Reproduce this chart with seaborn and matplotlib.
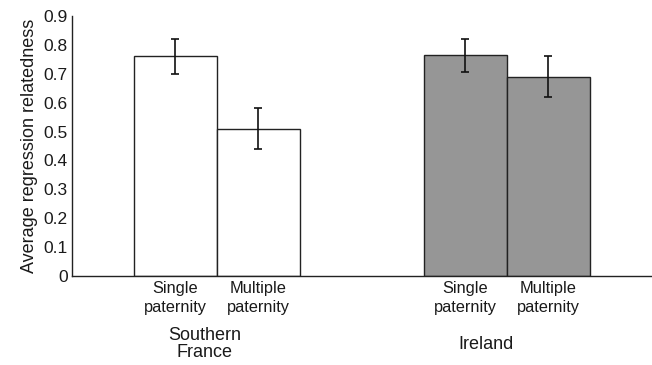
import numpy as np
import pandas as pd
import matplotlib
matplotlib.use("Agg")
import matplotlib.pyplot as plt
import seaborn as sns

# values
regions   = ["Southern France", "Southern France", "Ireland", "Ireland"]
paternity = ["Single\npaternity", "Multiple\npaternity", "Single\npaternity", "Multiple\npaternity"]
means     = [0.76, 0.51, 0.765, 0.69]
errs      = [0.06, 0.072, 0.057, 0.07]
positions = [1.25, 2.25, 4.75, 5.75]
group_labels = ["Southern\nFrance", "Ireland"]
group_pos    = [1.6, 5.0]
yticks = [0, 0.1, 0.2, 0.3, 0.4, 0.5, 0.6, 0.7, 0.8, 0.9]

PALETTE = {"Southern France": "#ffffff", "Ireland": "#969696"}
TEXT = "#1a1a1a"

df = pd.DataFrame({"pos": positions, "value": means, "region": regions})

sns.set_style("white")
plt.rcParams["font.family"] = ["Liberation Sans", "DejaVu Sans"]

fig = plt.figure(figsize=(6.52, 3.65), dpi=100)
ax = fig.add_axes([0.110, 0.244, 0.89, 0.712])

sns.barplot(data=df, x="pos", y="value", hue="region", palette=PALETTE,
            native_scale=True, width=1.0, dodge=False, errorbar=None,
            edgecolor="#222222", linewidth=1.0, legend=False, ax=ax)
ax.errorbar(positions, means, yerr=errs, fmt="none", ecolor="#111111",
            elinewidth=1.2, capsize=3, capthick=1.2)

ax.set_xlim(0, 7)
ax.set_ylim(0, 0.9)
ax.set_yticks(yticks)
ax.set_yticklabels([f"{t:g}" for t in yticks], fontsize=12.5, color=TEXT)
ax.set_xticks(positions)
ax.set_xticklabels(paternity, fontsize=11.8, linespacing=1.3, color=TEXT)
ax.tick_params(axis="y", length=0, pad=3)
ax.tick_params(axis="x", length=0, pad=4)
ax.set_xlabel("")
ax.set_ylabel("Average regression relatedness", fontsize=13, labelpad=4,
              color=TEXT)

for lbl, gx in zip(group_labels, group_pos):
    ax.text(gx, -0.262, lbl, ha="center", va="center", fontsize=13,
            linespacing=1.0, color=TEXT, transform=ax.get_xaxis_transform())

sns.despine(ax=ax)
for s in ["left", "bottom"]:
    ax.spines[s].set_color("#222222")
    ax.spines[s].set_linewidth(1.0)

fig.savefig("out.png", dpi=100)
